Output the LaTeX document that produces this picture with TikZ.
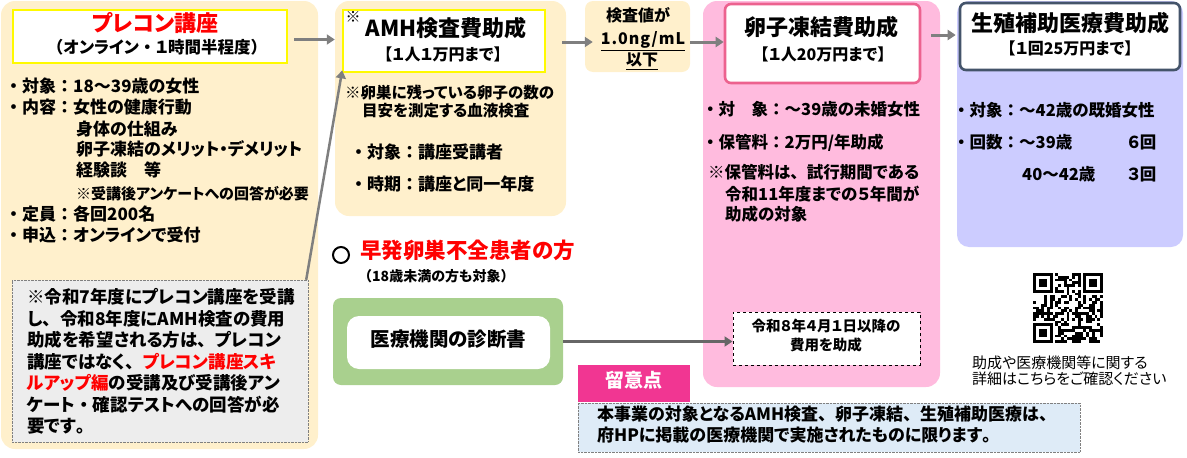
\documentclass[tikz,border=0pt]{standalone}
\usepackage{fontspec}
\setmainfont{Noto Sans CJK JP}[RawFeature=+palt]
\newfontfamily\fwfont{Noto Sans CJK JP}
\newcommand{\fw}[1]{{\fwfont #1}}
\usetikzlibrary{arrows.meta,positioning,calc}
\definecolor{PreCream}{RGB}{255,240,204}
\definecolor{EggPink}{RGB}{255,187,222}
\definecolor{EggEdge}{RGB}{236,98,143}
\definecolor{ArtBlue}{RGB}{204,204,255}
\definecolor{ArtEdge}{RGB}{68,84,106}
\definecolor{PofGreen}{RGB}{169,208,142}
\definecolor{NoteMagenta}{RGB}{241,54,146}
\definecolor{NoteBlue}{RGB}{222,235,247}
\definecolor{NoteGray}{RGB}{237,237,237}
\definecolor{ArrowGray}{RGB}{127,127,127}
\definecolor{TitleYellow}{RGB}{255,250,0}

\begin{document}
\begin{tikzpicture}[x=1pt,y=-1pt,
  panel/.style={rounded corners=14pt,inner sep=0pt,draw=none},
  titlebox/.style={fill=white,inner sep=0pt,line width=2.6pt},
  txt/.style={inner sep=0pt,text height=0.88em,text depth=0.12em,font=\fontsize{#1}{#1}\selectfont\bfseries},
  txt/.default=17,
  ltxt/.style={txt=#1,anchor=west},
  ltxt/.default=17,
  conn/.style={draw=ArrowGray,line width=3pt,-{Triangle[length=8pt,width=10pt]}},
]
\useasboundingbox (0,0) rectangle (1187,458);

% プレコン講座
\node[panel,fill=PreCream,minimum width=317pt,minimum height=448pt] (prebg) at (159.5,225) {};
\node[titlebox,draw=TitleYellow,minimum width=274pt,minimum height=53pt] (pretitle) at (150,36.5) {};
\node[txt=22,text=red] (pretitlea) at (155,28) {プレコン講座};
\node[txt=16.5] (pretitleb) at (157,50) {\fw{（}オンライン\fw{・}１時間半程度\fw{）}};
\foreach \x/\y/\t [count=\i] in {5/89/{\fw{・}対象\fw{：}18～39歳の女性}, 5/110/{\fw{・}内容\fw{：}女性の健康行動},
    76/132/身体の仕組み, 76/152/{卵子凍結のメリット・デメリット}, 76/173/{経験談　等},
    5/217/{\fw{・}定員\fw{：}各回200名}, 5/238/{\fw{・}申込\fw{：}オンラインで受付}}
  \node[ltxt] (prel\i) at (\x,\y) {\t};
\node[ltxt=15] (prelnote) at (76,196) {※受講後アンケートへの回答が必要};
\node[draw=gray,densely dotted,fill=NoteGray,inner sep=0pt,minimum width=296pt,minimum height=162pt] (notebox) at (160,361) {};
\foreach \y/\t [count=\i] in {300/{※令和7年度にプレコン講座を受講}, 322/{し\fw{、}令和8年度にAMH検査の費用},
    343/{助成を希望される方は\fw{、}プレコン}, 365/{講座ではなく\fw{、}\textcolor{red}{プレコン講座スキ}},
    386/{\textcolor{red}{ルアップ編}の受講及び受講後アン}, 408/{ケート\fw{・}確認テストへの回答が必},
    429/{要です\fw{。}}}
  \node[ltxt=17.5] (notel\i) at (27,\y) {\t};

% AMH検査費助成
\node[panel,fill=PreCream,minimum width=231pt,minimum height=215pt] (amhbg) at (450.5,108.5) {};
\node[titlebox,draw=TitleYellow,minimum width=202pt,minimum height=62pt] (amhtitle) at (444,41) {};
\node[txt=15] (amhmark) at (353,19) {※};
\node[txt=22] (amhtitlea) at (446,33) {AMH検査費助成};
\node[txt=16] (amhtitleb) at (443,57) {\fw{【}１人１万円まで\fw{】}};
\node[ltxt=15.5] (amhn1) at (345,95) {※卵巣に残っている卵子の数の};
\node[ltxt=15.5] (amhn2) at (362,113) {目安を測定する血液検査};
\node[ltxt] (amhl1) at (350,155) {\fw{・}対象\fw{：}講座受講者};
\node[ltxt] (amhl2) at (350,187) {\fw{・}時期\fw{：}講座と同一年度};

% 検査値
\node[panel,rounded corners=8pt,fill=PreCream,minimum width=105pt,minimum height=71pt] (thrbox) at (637.5,36.5) {};
\node[txt=16] (thra) at (638,18) {検査値が};
\node[txt=16] (thrb) at (643,41) {\underline{\addfontfeature{LetterSpace=6}1.0ng/mL}};
\node[txt=16] (thrc) at (642,62) {\underline{以下}};

% 卵子凍結費助成
\node[panel,fill=EggPink,minimum width=237pt,minimum height=386pt] (eggbg) at (821.5,194) {};
\node[titlebox,draw=EggEdge,rounded corners=6pt,minimum width=195pt,minimum height=79pt] (eggtitle) at (822.5,43.5) {};
\node[txt=22] (eggtitlea) at (821,32) {卵子凍結費助成};
\node[txt=16] (eggtitleb) at (823,57) {\fw{【}１人20万円まで\fw{】}};
\foreach \x/\y/\t [count=\i] in {702/112/{\fw{・}対　象\fw{：}～39歳の未婚女性}, 702/145/{\fw{・}保管料\fw{：}2万円/年助成},
    708/175/{※保管料は\fw{、}試行期間である}, 725/197/{令和11年度までの５年間が}, 725/217/{助成の対象}}
  \node[ltxt=16.5] (eggl\i) at (\x,\y) {\t};
\node[draw,dashed,line width=1pt,fill=white,inner sep=0pt,minimum width=187pt,minimum height=53pt] (dashbox) at (826.5,338.5) {};
\node[txt=14.5] (dasha) at (826,328) {令和８年４月１日以降の};
\node[txt=14.5] (dashb) at (826,347) {費用を助成};

% 生殖補助医療費助成
\node[panel,rounded corners=12pt,fill=ArtBlue,minimum width=226pt,minimum height=246pt] (artbg) at (1070,124) {};
\node[titlebox,draw=ArtEdge,rounded corners=6pt,minimum width=220pt,minimum height=67pt] (arttitle) at (1070,36.5) {};
\node[txt=22] (arttitlea) at (1070,28) {生殖補助医療費助成};
\node[txt=16] (arttitleb) at (1070,51) {\fw{【}１回25万円まで\fw{】}};
\node[ltxt=16.5] (artl1) at (953,113) {\fw{・}対象\fw{：}～42歳の既婚女性};
\node[ltxt=16.5] (artl2) at (953,145) {\fw{・}回数\fw{：}～39歳};
\node[ltxt=16.5] (artl3) at (1022,177) {40～42歳};
\node[ltxt=16.5] (artl4) at (1127,145) {６回};
\node[ltxt=16.5] (artl5) at (1127,177) {３回};

% QR
\pgfmathsetseed{7}
\foreach \i in {0,...,24}{
  \foreach \j in {0,...,24}{
    \pgfmathtruncatemacro\qbit{(rnd<0.5) && !((\i<8 && \j<8) || (\i>16 && \j<8) || (\i<8 && \j>16))}
    \ifnum\qbit=1 \fill (1033+\i*2.8,273+\j*2.8) rectangle ++(2.8,2.8); \fi
  }
}
\foreach \qx/\qy in {0/0,18/0,0/18}{
  \fill[black] (1033+\qx*2.8,273+\qy*2.8) rectangle ++(19.6,19.6);
  \fill[white] (1033+\qx*2.8+2.8,273+\qy*2.8+2.8) rectangle ++(14,14);
  \fill[black] (1033+\qx*2.8+5.6,273+\qy*2.8+5.6) rectangle ++(8.4,8.4);
}
\node[ltxt=15,font=\fontsize{15}{15}\selectfont] (qra) at (972,365) {助成や医療機関等に関する};
\node[ltxt=15,font=\fontsize{15}{15}\selectfont] (qrb) at (972,381) {詳細はこちらをご確認ください};

% 早発卵巣不全
\node[circle,draw,line width=2pt,minimum size=16pt,inner sep=0pt] (pofcirc) at (341,255) {};
\node[ltxt=21.5,text=red] (poftitle) at (360,255) {早発卵巣不全患者の方};
\node[ltxt=14] (pofsub) at (358,278) {\fw{（}18歳未満の方も対象\fw{）}};
\node[panel,rounded corners=8pt,fill=PofGreen,minimum width=230pt,minimum height=87pt] (greenbg) at (448,341.5) {};
\node[panel,rounded corners=12pt,fill=white,minimum width=203pt,minimum height=53pt] (diagbox) at (448.5,342.5) {};
\node[txt=19.5] (diagtxt) at (448.5,342.5) {医療機関の診断書};

% 留意点
\node[fill=NoteMagenta,inner sep=0pt,minimum width=112pt,minimum height=37pt] (notetab) at (634,383.5) {};
\node[txt=19,text=white] (notetabtxt) at (634,383.5) {留意点};
\node[draw=gray,densely dotted,fill=NoteBlue,inner sep=0pt,minimum width=502pt,minimum height=49pt] (bottombox) at (829,427.5) {};
\node[ltxt] (bottoma) at (597,417) {本事業の対象となるAMH検査\fw{、}卵子凍結\fw{、}生殖補助医療は\fw{、}};
\node[ltxt] (bottomb) at (597,438) {府HPに掲載の医療機関で実施されたものに限ります\fw{。}};

% arrows
\draw[conn] ($(pretitle.east)+(6,3)$) -- ($(pretitle.east -| amhbg.west)+(0,3)$);
\draw[conn,line width=2.5pt,shorten >=-3pt] ($(notebox.north east)+(-2,0)$) -- (amhtitle.south west);
\draw[conn] ($(thrbox.west -| amhbg.east)+(-4,5.5)$) -- ($(thrbox.west)+(8,5.5)$);
\draw[conn] ($(thrbox.east)+(0,5.5)$) -- ($(thrbox.east -| eggtitle.west)+(0,5.5)$);
\draw[conn] ($(arttitle.west -| eggtitle.east)+(10,-1.5)$) -- ($(arttitle.west)+(-3,-1.5)$);
\draw[conn,draw=ArrowGray!80!black,line width=2.5pt] (greenbg.east) -- (greenbg.east -| dashbox.west);
\end{tikzpicture}
\end{document}
